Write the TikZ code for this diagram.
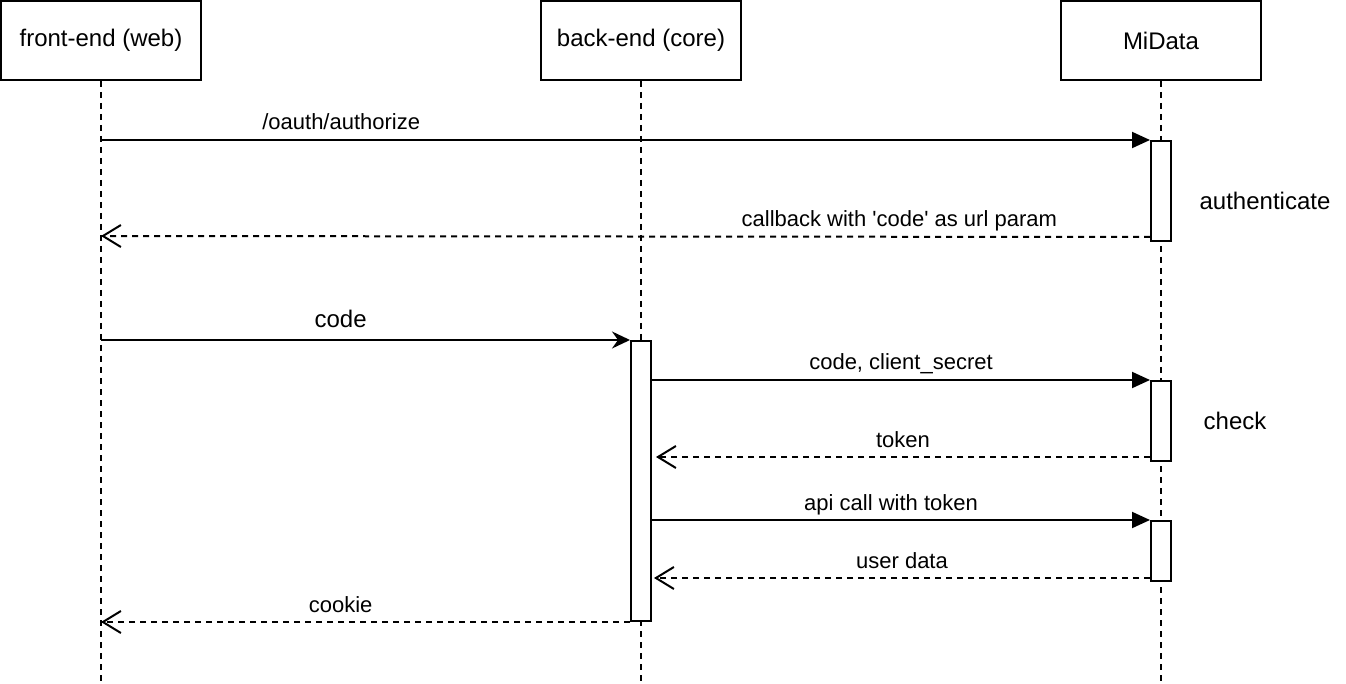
\documentclass[tikz,border=0pt]{standalone}
\usepackage{fontspec}
\setmainfont{Liberation Sans}
\usetikzlibrary{calc}
\usetikzlibrary{arrows.meta}
\tikzset{
  actor/.style={draw, line width=2pt, minimum width=200pt, minimum height=79pt, font=\fontsize{24}{28}\selectfont},
  activ/.style={draw, line width=2pt, fill=white, minimum width=20pt, inner sep=0pt},
  lifeline/.style={line width=2pt, dash pattern=on 6pt off 5pt},
  call/.style={line width=2pt, -{Triangle[length=18pt,width=16pt]}},
  firstcall/.style={line width=2pt, -{Stealth[length=18pt,width=17pt,inset=6pt]}},
  reply/.style={line width=2pt, dash pattern=on 6pt off 5pt, -{Straight Barb[length=18pt,width=22pt,line width=2pt]}},
  lbl/.style={anchor=base, yshift=10pt, inner sep=0pt, font=\fontsize{22}{26}\selectfont},
  note/.style={font=\fontsize{24}{28}\selectfont}
}

\begin{document}
\begin{tikzpicture}[x=1pt,y=-1pt]
\useasboundingbox (0,0) rectangle (1346,684);
% participants
\node[actor] (fe) at (101,40.5) {front-end (web)};
\node[actor] (be) at (641,40.5) {back-end (core)};
\node[actor] (md) at (1161,40.5) {MiData};
\coordinate (feend) at (101,684);
\coordinate (beend) at (641,684);
\coordinate (mdend) at (1161,684);
\draw[lifeline] (fe.south) -- (feend);
\draw[lifeline] (be.south) -- (beend);
\draw[lifeline] (md.south) -- (mdend);
% activations
\node[activ, minimum height=100pt] (auth) at (1161,191) {};
\node[activ, minimum height=280pt] (core) at (641,481) {};
\node[activ, minimum height=80pt] (chk) at (1161,421) {};
\node[activ, minimum height=60pt] (data) at (1161,551) {};
\node[note] (authtxt) at (1265,201) {authenticate};
\node[note] (chktxt) at (1235,421) {check};
% messages
\draw[call] (fe |- auth.north west) -- (auth.north west)
  node[lbl, pos=.229] {/oauth/authorize};
\draw[reply] ([yshift=5pt]auth.south west) -- (fe |- 0,236)
  node[lbl, pos=.239] {callback with \textquotesingle code\textquotesingle\ as url param};
\draw[firstcall] (fe |- core.north west) -- (core.north west)
  node[lbl, pos=.453, yshift=2pt, font=\fontsize{24}{28}\selectfont] {code};
\draw[call] (core.east |- chk.north west) -- (chk.north west)
  node[lbl, pos=.5] {code, client\_secret};
\draw[reply] ([yshift=5pt]chk.south west) -- ($(core.east |- chk.south)+(4pt,5pt)$)
  node[lbl, pos=.5] {token};
\draw[call] (core.east |- data.north west) -- (data.north west)
  node[lbl, pos=.48] {api call with token};
\draw[reply] ([yshift=4pt]data.south west) -- ($(core.east |- data.south)+(2pt,4pt)$)
  node[lbl, pos=.5] {user data};
\draw[reply] (core.south west) -- (fe |- core.south)
  node[lbl, pos=.547] {cookie};
\end{tikzpicture}
\end{document}
